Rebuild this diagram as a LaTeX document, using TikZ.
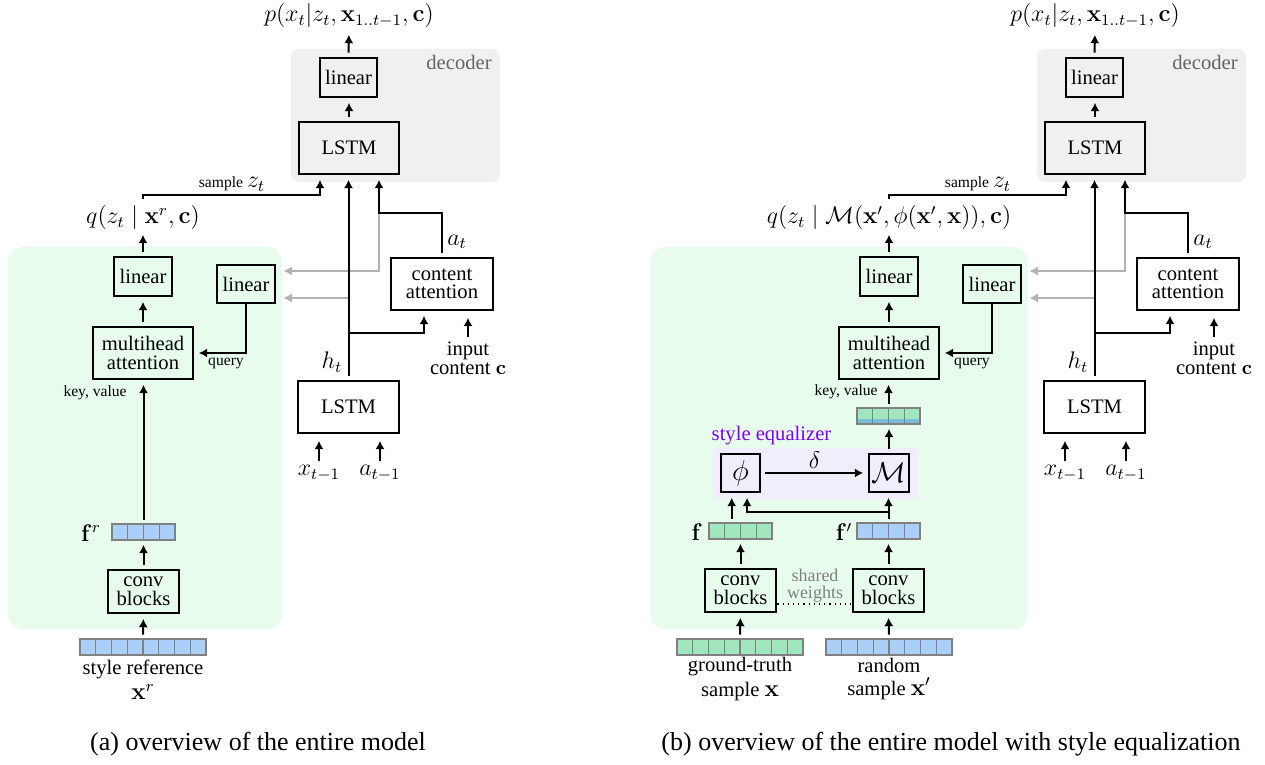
\documentclass[tikz,border=0pt]{standalone}
\usepackage[no-math]{fontspec}
\setmainfont{Liberation Serif}
\usetikzlibrary{arrows.meta}
\definecolor{greenbg}{RGB}{232,252,238}
\definecolor{decbg}{RGB}{240,240,240}
\definecolor{purpbg}{RGB}{241,237,250}
\definecolor{purptxt}{RGB}{127,0,255}
\definecolor{cblue}{RGB}{170,208,250}
\definecolor{cgreen}{RGB}{160,230,190}
\definecolor{cmix}{RGB}{120,190,215}
\definecolor{cellb}{RGB}{128,128,128}
\definecolor{arrgray}{RGB}{178,178,178}
\definecolor{txtgray}{RGB}{100,100,100}
\newcommand\myfs{\fontsize{10.3}{9.3}\selectfont}
\newcommand\mysm{\fontsize{7.8}{9}\selectfont}
\newcommand\mymath{\fontsize{12}{14}\selectfont}
\newcommand\mybig{\fontsize{14}{16}\selectfont}
\newcommand\mycap{\fontsize{13}{15}\selectfont}
\newcommand\mysw{\fontsize{9}{8.5}\selectfont}
\tikzset{
 blk/.style={draw, line width=1.4pt, inner sep=0pt, align=center, font=\myfs},
 arr/.style={line width=1pt, -{Latex[length=4.2pt,width=4.6pt]}, shorten <=2pt, shorten >=2.2pt},
 garr/.style={arr, draw=arrgray, shorten <=0pt, shorten >=0.5pt},
 cellsty/.style={draw=cellb, line width=0.6pt},
 lbl/.style={inner sep=0pt, align=center},
}
\newcommand\cellrow[5]{%
  \foreach \k in {1,...,#4}{\draw[cellsty, fill=#5] ({#2+(\k-1)*15.75},#3) rectangle ++(15.75,16);}
  \node[inner sep=0pt, minimum width=#4*7.875pt, minimum height=8pt] (#1) at ({#2+#4*7.875},{#3+8}) {};
}
\begin{document}
\begin{tikzpicture}[x=0.5pt, y=-0.5pt]
\useasboundingbox (0,0) rectangle (1265,765);
% backgrounds
\node[fill=greenbg, rounded corners=7.5pt, minimum width=137pt, minimum height=191pt, inner sep=0pt] (agreen) at (145,438) {};
\node[fill=greenbg, rounded corners=7.5pt, minimum width=189pt, minimum height=191pt, inner sep=0pt] (bgreen) at (839,438) {};
\node[fill=purpbg, rounded corners=3pt, minimum width=102.5pt, minimum height=25.5pt, inner sep=0pt] (bpurp) at (815.5,473.5) {};
% posterior labels
\node[lbl, font=\mymath] (aq) at (143,218) {$q(z_t \mid \mathbf{x}^r, \mathbf{c})$};
\node[lbl, font=\mymath] (bq) at (889,218) {$q(z_t \mid \mathcal{M}(\mathbf{x}', \phi(\mathbf{x}', \mathbf{x})), \mathbf{c})$};
% shared structure of both panels
\foreach \p/\dx in {a/0,b/746}{
\begin{scope}[xshift=\dx*0.5pt]
 \fill[decbg, rounded corners=4pt] (291,49) rectangle (500,182);
 \node[anchor=east, text=txtgray, font=\myfs, inner sep=0pt] (\p dec) at (492,62) {decoder};
 \node[font=\mymath, inner sep=1pt] (\p p) at (349,16) {$p(x_t|z_t,\mathbf{x}_{1..t-1},\mathbf{c})$};
 \node[blk, minimum width=28.5pt, minimum height=19.5pt] (\p linT) at (348.5,77.5) {linear};
 \node[blk, minimum width=50pt, minimum height=26pt] (\p lstmT) at (349,148) {LSTM};
 \node[blk, minimum width=51pt, minimum height=26pt] (\p catt) at (442,284) {content\\attention};
 \node[blk, minimum width=50.5pt, minimum height=26pt] (\p lstmB) at (348.5,407) {LSTM};
 \node[blk, minimum width=29pt, minimum height=19.5pt] (\p lin1) at (143,276.5) {linear};
 \node[blk, minimum width=29pt, minimum height=19pt] (\p linq) at (246,284) {linear};
 \node[blk, minimum width=50pt, minimum height=26pt] (\p mha) at (143,353) {multihead\\attention};
 \node[lbl, font=\mymath] (\p ht) at (332,362) {$h_t$};
 \node[lbl, font=\mymath, anchor=west] (\p atl) at (447,242) {$a_t$};
 \node[lbl, font=\mymath] (\p xl) at (319,473) {$x_{t-1}$};
 \node[lbl, font=\mymath] (\p al) at (380,473) {$a_{t-1}$};
 \node[lbl, font=\myfs] (\p inc) at (468,358) {input\\content $\mathbf{c}$};
 \node[lbl, font=\mysm] (\p qry) at (226,363) {query};
 \node[lbl] (\p smp) at (232,184) {\mysm sample {\mymath$z_t$}};
 \coordinate (\p at) at (379,213);
 \coordinate (\p g1) at (379,271);
 \coordinate (\p g2) at (349,298);
 \coordinate (\p br) at (349,333);
 \draw[arr] (\p linT.north) -- (\p p.south);
 \draw[arr] (\p lstmT.north) -- (\p lstmT.north |- \p linT.south);
 \draw[garr] (\p at) -- (\p g1) -- (\p g1 -| \p green.east);
 \draw[garr] (\p g2) -- (\p g2 -| \p green.east);
 \draw[arr] (\p lstmB.north) -- (\p lstmB.north |- \p lstmT.south);
 \draw[arr] (\p catt.north) |- (\p at) -- (\p at |- \p lstmT.south);
 \draw[arr, shorten <=0pt] (\p br) -| ([xshift=-9pt]\p catt.south);
 \draw[arr, shorten >=3.2pt] (\p inc.north) -- (\p inc.north |- \p catt.south);
 \draw[arr, shorten >=3.2pt] (\p xl.north) -- (\p xl.north |- \p lstmB.south);
 \draw[arr, shorten >=3.2pt] (\p al.north) -- (\p al.north |- \p lstmB.south);
 \draw[arr] (\p mha.north) -- (\p lin1.south);
 \draw[arr] (\p lin1.north) -- (\p q.south);
 \draw[arr, shorten <=0pt] (\p linq.south) |- (\p mha.east);
 \draw[arr, shorten <=0pt] ([yshift=3.5pt]\p q.north) -- ++(0,-4) -| ([xshift=-14.5pt]\p lstmT.south);
\end{scope}}
% ---- panel (a) specific
\node[lbl, font=\mysm, anchor=east] (akv) at (127,393) {key, value};
\cellrow{afr}{112}{524}{4}{cblue}
\node[lbl, font=\mymath] (afrl) at (91,533) {$\mathbf{f}^r$};
\node[blk, minimum width=35.5pt, minimum height=21.5pt] (aconv) at (143.5,591.5) {conv\\blocks};
\cellrow{axr}{80}{639}{8}{cblue}
\node[lbl, font=\myfs] (axrl) at (143,680) {style reference\\[1.5pt]{\mymath$\mathbf{x}^r$}};
\draw[arr] (afr.north) -- (afr.north |- amha.south);
\draw[arr] (aconv.north) -- (afr.south);
\draw[arr] (axr.north) -- (aconv.south);
% ---- panel (b) specific
\node[lbl, font=\myfs, text=purptxt] (seq) at (771.5,436) {style equalizer};
\node[lbl, font=\mysm, anchor=east] (bkv) at (878,392) {key, value};
\cellrow{bmix}{857}{408}{4}{cgreen}
\fill[cmix] (857,419) rectangle (920,424);
\foreach \k in {1,...,4}{\draw[cellsty] ({857+(\k-1)*15.75},408) rectangle ++(15.75,16);}
\node[blk, minimum width=19.5pt, minimum height=19pt, font=\mybig] (bphi) at (740.5,473) {$\phi$};
\node[blk, minimum width=20pt, minimum height=19pt, font=\mybig] (bM) at (889,473) {$\mathcal{M}$};
\draw[arr] (bphi.east) -- node[above, font=\mymath, inner sep=2pt] (bdel) {$\delta$} (bM.west);
\cellrow{bf}{709}{523}{4}{cgreen}
\node[lbl, font=\mymath] (bfl) at (697,532) {$\mathbf{f}$};
\cellrow{bfp}{857}{523}{4}{cblue}
\node[lbl, font=\mymath] (bfpl) at (844,532) {$\mathbf{f}'$};
\coordinate (bj) at (889,512);
\draw[arr] ([xshift=-4.4pt]bf.north) -- ([xshift=-4.4pt]bphi.south);
\draw[arr] (bfp.north) -- (bfp.north |- bM.south);
\draw[arr, shorten <=0pt] (bj) -| ([xshift=3.3pt]bphi.south);
\draw[arr] (bM.north) -- (bM.north |- bmix.south);
\draw[arr] (bmix.north) -- (bmix.north |- bmha.south);
\node[blk, minimum width=35.5pt, minimum height=21.5pt] (bconv1) at (740.5,590.5) {conv\\blocks};
\node[blk, minimum width=35.5pt, minimum height=21.5pt] (bconv2) at (888.5,590.5) {conv\\blocks};
\draw[dotted, line width=0.6pt] ([yshift=-6.75pt]bconv1.east) -- ([yshift=-6.75pt]bconv2.west);
\node[lbl, font=\mysw, text=cellb] (bsw) at (815,586) {shared\\weights};
\draw[arr] (bconv1.north) -- (bf.south);
\draw[arr] (bconv2.north) -- (bfp.south);
\cellrow{bx}{677}{639}{8}{cgreen}
\cellrow{bxp}{826}{639}{8}{cblue}
\draw[arr] (bx.north) -- (bconv1.south);
\draw[arr] (bxp.north) -- (bconv2.south);
\node[lbl, font=\myfs] (bxl) at (740,679) {ground-truth\\[2pt]sample {\mymath$\mathbf{x}$}};
\node[lbl, font=\myfs] (bxpl) at (889,679) {random\\[2pt]sample {\mymath$\mathbf{x}'$}};
% captions
\node[font=\mycap, inner sep=0pt] (capa) at (258,744) {(a) overview of the entire model};
\node[font=\mycap, inner sep=0pt] (capb) at (951,744) {(b) overview of the entire model with style equalization};
\end{tikzpicture}
\end{document}
